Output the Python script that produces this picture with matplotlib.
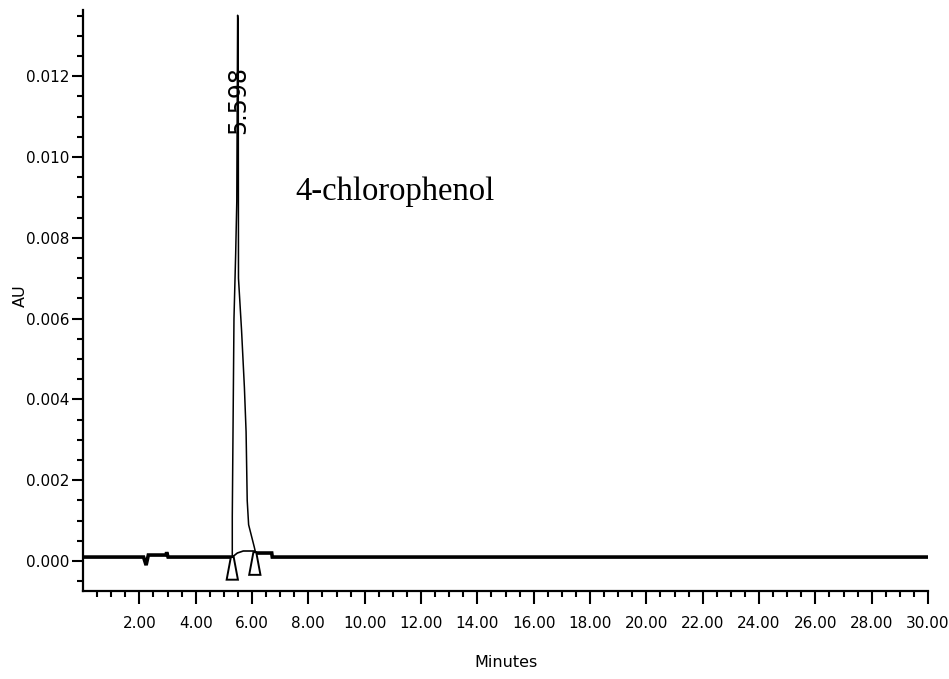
import matplotlib
matplotlib.use('Agg')
import matplotlib.pyplot as plt
from matplotlib.patches import Polygon
import numpy as np

# --- DATA ---
# flat baseline before the peak, with the small dip and spike
base_pre_t = [0.0, 2.15, 2.24, 2.32, 2.95, 2.97, 3.02, 5.30]
base_pre_au = [0.0001, 0.0001, -0.0001, 0.00015, 0.00015, 0.00022, 0.0001, 0.0001]

# the 4-chlorophenol peak itself
peak_t = [5.30, 5.30, 5.36, 5.42, 5.46, 5.49, 5.51, 5.52, 5.63, 5.73, 5.79, 5.83, 5.88, 6.08, 6.13]
peak_au = [0.0001, 0.0011, 0.0060, 0.0076, 0.0089, 0.01351, 0.0133, 0.0070,
           0.0057, 0.0043, 0.0032, 0.0015, 0.0009, 0.00035, 0.0002]

# tail after the peak and the rest of the run
base_post_t = [6.13, 6.70, 6.72, 30.0]
base_post_au = [0.0002, 0.0002, 0.0001, 0.0001]

# integration baseline drawn under the peak
integ_t = [5.30, 5.48, 5.69, 6.08]
integ_au = [0.0001, 0.0002, 0.00025, 0.00025]

# peak start / end markers (time, AU)
marker_t = [5.30, 6.10]
marker_au = [0.0001, 0.00022]

peak_rt = 5.598
compound = '4-chlorophenol'

x_ticks = np.arange(2, 31, 2)
y_ticks = np.arange(0, 0.0121, 0.002)

# --- PLOT ---
plt.rcParams['font.family'] = ['DejaVu Sans']

fig = plt.figure(figsize=(9.49, 6.79), dpi=100)
ax = fig.add_axes([83 / 949, 1 - 591 / 679, (928 - 83) / 949, (591 - 10) / 679])

ax.plot(base_pre_t, base_pre_au, color='black', lw=2.6, solid_joinstyle='miter')
ax.plot(peak_t, peak_au, color='black', lw=1.1)
ax.plot(base_post_t, base_post_au, color='black', lw=2.6, solid_joinstyle='miter')
ax.plot(integ_t, integ_au, color='black', lw=1.2)

# hollow triangles marking peak start and end
tri_h = 0.00056
for t, a in zip(marker_t, marker_au):
    tri = Polygon([(t - 0.05, a), (t + 0.05, a), (t + 0.2, a - tri_h), (t - 0.2, a - tri_h)],
                  closed=True, facecolor='white', edgecolor='black', lw=1.4, zorder=3)
    ax.add_patch(tri)

# retention time label along the peak
ax.text(5.5, 0.01141, f'{peak_rt:.3f}', rotation=90, ha='center', va='center',
        fontsize=17, color='black')

ax.text(7.53, 0.00893, compound, fontsize=23.5, family=['Liberation Serif', 'DejaVu Serif'],
        ha='left', va='baseline')

ax.set_xlim(0, 30)
ax.set_ylim(-0.00074, 0.01364)

ax.set_xticks(x_ticks)
ax.set_xticklabels([f'{v:.2f}' for v in x_ticks])
ax.set_xticks(np.arange(0.5, 30, 0.5), minor=True)
ax.set_yticks(y_ticks)
ax.set_yticklabels([f'{v:.3f}' for v in y_ticks])
ax.set_yticks(np.arange(-0.0005, 0.0136, 0.0005), minor=True)

ax.tick_params(axis='both', which='major', direction='out', width=1.5, labelsize=11, color='black')
ax.tick_params(axis='x', which='major', length=9, pad=9)
ax.tick_params(axis='y', which='major', length=8, pad=2)
ax.tick_params(axis='both', which='minor', direction='out', width=1.5, length=4)

for s in ['top', 'right']:
    ax.spines[s].set_visible(False)
for s in ['left', 'bottom']:
    ax.spines[s].set_linewidth(1.6)

ax.set_xlabel('Minutes', fontsize=11.5, labelpad=17)
ax.set_ylabel('AU', fontsize=11.5, va='center')
ax.yaxis.set_label_coords(-0.0746, 0.508)

fig.savefig('out.png', dpi=100)
